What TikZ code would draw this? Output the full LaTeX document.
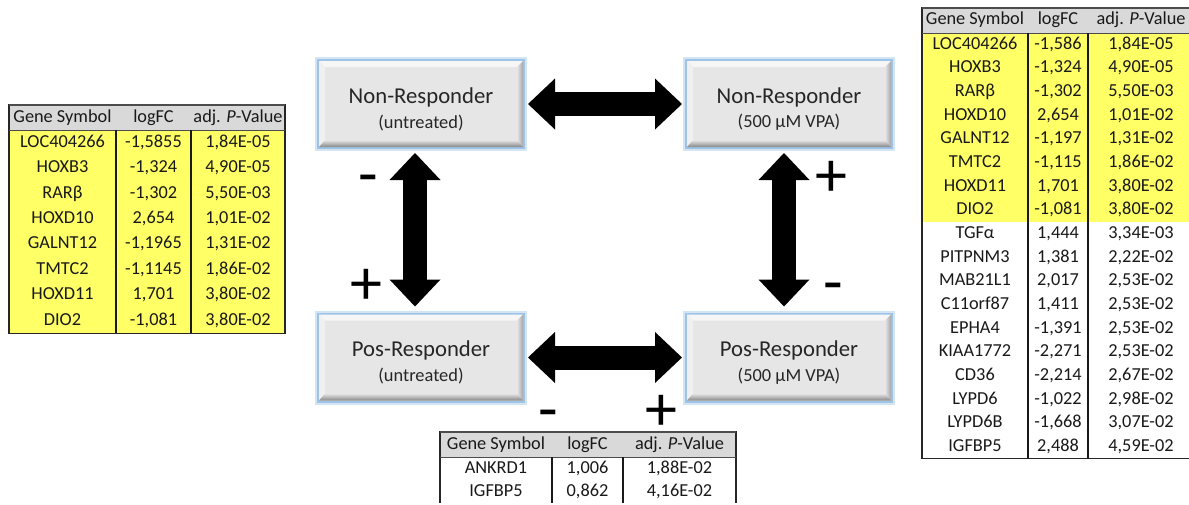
\documentclass[tikz,border=0pt]{standalone}
\usepackage{fontspec}
\setmainfont{Carlito}
\usetikzlibrary{matrix,arrows.meta}

\definecolor{hdrgray}{RGB}{217,217,217}
\definecolor{rowyellow}{RGB}{255,255,102}
\definecolor{facegray}{RGB}{230,230,230}
\definecolor{glowblue}{RGB}{157,195,230}
\definecolor{bevlight}{RGB}{246,246,246}
\definecolor{bevmid}{RGB}{165,165,165}
\definecolor{bevdark}{RGB}{135,135,135}

\newcommand{\tabfont}{\fontsize{18.3}{21}\selectfont}
\newcommand{\boxbig}{\fontsize{22.7}{27}\selectfont}
\newcommand{\boxsmall}{\fontsize{18.4}{24.6}\selectfont}
\newcommand{\signfont}{\fontsize{64}{70}\selectfont}

\begin{document}
\begin{tikzpicture}[x=1pt, y=-1pt,
  genetab/.style={matrix of nodes, anchor=north west, inner sep=0pt, outer sep=0pt,
    column sep=0pt, row sep=0pt,
    nodes={inner sep=0pt, outer sep=0pt, anchor=center, font=\tabfont, text=black!90,
      text height=13pt, text depth=4pt}},
  hdrrow/.style={row 1/.style={nodes={fill=hdrgray, minimum height=#1}}},
  yelrow/.style={row #1/.style={nodes={fill=rowyellow}}},
  colw/.style n args={3}{column 1/.style={nodes={minimum width=#1}},
    column 2/.style={nodes={minimum width=#2}},
    column 3/.style={nodes={minimum width=#3}}},
  tabframe/.style={draw=black!85, line width=1.4pt},
  hdrtop/.style={draw=black!70, line width=2pt},
  hdrline/.style={draw=black!70, line width=0.8pt},
  colline/.style={draw=black!90, line width=1.4pt},
  statebox/.style={fill=facegray, minimum width=204pt, minimum height=86pt,
    inner sep=0pt, outer sep=2pt, align=center, font=\boxsmall, text=black!85,
    preaction={draw=glowblue!45, line width=8pt},
    preaction={draw=glowblue, line width=4pt},
    path picture={
      \path (path picture bounding box.north west) coordinate (bnw)
            (path picture bounding box.north east) coordinate (bne)
            (path picture bounding box.south west) coordinate (bsw)
            (path picture bounding box.south east) coordinate (bse);
      % bevel edges
      \fill[bevlight] (bnw) -- (bne) -- ([shift={(-6pt,-6pt)}]bne)
        -- ([shift={(6pt,-6pt)}]bnw) -- cycle;
      \fill[bevlight!60!facegray] (bnw) -- (bsw) -- ([shift={(6pt,7pt)}]bsw)
        -- ([shift={(6pt,-6pt)}]bnw) -- cycle;
      \shade[left color=facegray, right color=bevmid] (bne) -- (bse)
        -- ([shift={(-6pt,7pt)}]bse) -- ([shift={(-6pt,-6pt)}]bne) -- cycle;
      \shade[top color=facegray, bottom color=bevdark] (bsw) -- (bse)
        -- ([shift={(-6pt,7pt)}]bse) -- ([shift={(6pt,7pt)}]bsw) -- cycle;
    }},
  bigarrow/.style={line width=24pt,
    {Triangle[width=51pt,length=27pt,line width=0pt]}-{Triangle[width=51pt,length=27pt,line width=0pt]}},
  signmark/.style={font=\signfont, inner sep=0pt}
]
\useasboundingbox (0,0) rectangle (1189,504);

% left table
\matrix (tabL) [genetab, hdrrow=25pt, colw={107pt}{75pt}{94pt},
  nodes={fill=rowyellow, minimum height=25.4pt}] at (9,105) {
  Gene Symbol & logFC & adj. \textit{P}-Value \\
  LOC404266 & -1,5855 & 1,84E-05 \\
  HOXB3 & -1,324 & 4,90E-05 \\
  RARβ & -1,302 & 5,50E-03 \\
  HOXD10 & 2,654 & 1,01E-02 \\
  GALNT12 & -1,1965 & 1,31E-02 \\
  TMTC2 & -1,1145 & 1,86E-02 \\
  HOXD11 & 1,701 & 3,80E-02 \\
  DIO2 & -1,081 & 3,80E-02 \\
};
\draw[tabframe] (tabL.north west) rectangle (tabL.south east);
\draw[hdrtop] (tabL.north west) -- (tabL.north east);
\draw[hdrline] (tabL-1-1.south west) -- (tabL-1-3.south east);
\draw[colline] (tabL-2-1.north east) -- (tabL-9-1.south east);
\draw[colline] (tabL-2-2.north east) -- (tabL-9-2.south east);

% right table
\matrix (tabR) [genetab, hdrrow=25.5pt, colw={106pt}{60pt}{106pt},
  nodes={fill=white, minimum height=23.65pt}, yelrow/.list={2,...,9}] at (922,7.5) {
  Gene Symbol & logFC & adj. \textit{P}-Value \\
  LOC404266 & -1,586 & 1,84E-05 \\
  HOXB3 & -1,324 & 4,90E-05 \\
  RARβ & -1,302 & 5,50E-03 \\
  HOXD10 & 2,654 & 1,01E-02 \\
  GALNT12 & -1,197 & 1,31E-02 \\
  TMTC2 & -1,115 & 1,86E-02 \\
  HOXD11 & 1,701 & 3,80E-02 \\
  DIO2 & -1,081 & 3,80E-02 \\
  TGFα & 1,444 & 3,34E-03 \\
  PITPNM3 & 1,381 & 2,22E-02 \\
  MAB21L1 & 2,017 & 2,53E-02 \\
  C11orf87 & 1,411 & 2,53E-02 \\
  EPHA4 & -1,391 & 2,53E-02 \\
  KIAA1772 & -2,271 & 2,53E-02 \\
  CD36 & -2,214 & 2,67E-02 \\
  LYPD6 & -1,022 & 2,98E-02 \\
  LYPD6B & -1,668 & 3,07E-02 \\
  IGFBP5 & 2,488 & 4,59E-02 \\
};
\draw[tabframe] (tabR.north west) rectangle (tabR.south east);
\draw[hdrtop] (tabR.north west) -- (tabR.north east);
\draw[hdrline] (tabR-1-1.south west) -- (tabR-1-3.south east);
\draw[colline] (tabR-2-1.north east) -- (tabR-19-1.south east);
\draw[colline] (tabR-2-2.north east) -- (tabR-19-2.south east);

% bottom table
\matrix (tabB) [genetab, hdrrow=25pt, colw={112pt}{71pt}{113pt},
  nodes={fill=white, minimum height=23pt}] at (440,432) {
  Gene Symbol & logFC & adj. \textit{P}-Value \\
  ANKRD1 & 1,006 & 1,88E-02 \\
  IGFBP5 & 0,862 & 4,16E-02 \\
};
\draw[tabframe] (tabB.south west) -- (tabB.north west) -- (tabB.north east) -- (tabB.south east);
\draw[hdrtop] (tabB.north west) -- (tabB.north east);
\draw[hdrline] (tabB-1-1.south west) -- (tabB-1-3.south east);
\draw[colline] (tabB-2-1.north east) -- (tabB-3-1.south east);
\draw[colline] (tabB-2-2.north east) -- (tabB-3-2.south east);

% the four groups
\node[statebox] (nrU) at (421,104) {\rule{0pt}{26pt}{\boxbig Non-Responder}\\(untreated)};
\node[statebox] (nrV) at (789,104) {\rule{0pt}{26pt}{\boxbig Non-Responder}\\(500 µM VPA)};
\node[statebox] (prU) at (421,357.5) {\rule{0pt}{26pt}{\boxbig Pos-Responder}\\(untreated)};
\node[statebox] (prV) at (789,357.5) {\rule{0pt}{26pt}{\boxbig Pos-Responder}\\(500 µM VPA)};

\draw[bigarrow, shorten <=3pt, shorten >=3pt] (nrU) -- (nrV);
\draw[bigarrow, shorten <=3pt, shorten >=3pt] (prU) -- (prV);
\draw[bigarrow, shorten <=4pt, shorten >=6pt] ([xshift=-6pt]nrU.south) -- ([xshift=-6pt]prU.north);
\draw[bigarrow, shorten <=4pt, shorten >=6pt] ([xshift=-5pt]nrV.south) -- ([xshift=-5pt]prV.north);

% signs
\node[signmark] (mnsL) at (368,185.5) {-};
\node[signmark] (plsL) at (366,287) {+};
\node[signmark] (plsR) at (831,179) {+};
\node[signmark] (mnsR) at (833,293) {-};
\node[signmark] (mnsB) at (548,420.5) {-};
\node[signmark] (plsB) at (661,413) {+};
\end{tikzpicture}
\end{document}
